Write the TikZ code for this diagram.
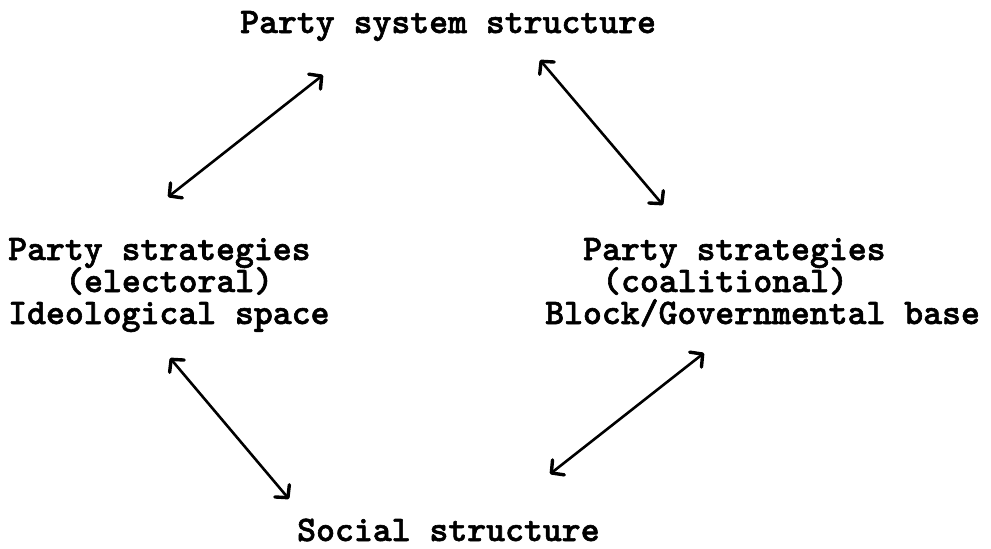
\documentclass[tikz,border=0pt]{standalone}
\usepackage{fontspec}
\setmonofont{lmmono10-regular.otf}[BoldFont=lmmonolt10-bold.otf,BoldFeatures={FakeBold=1.6}]
\usetikzlibrary{arrows.meta}
\begin{document}
\begin{tikzpicture}[x=1pt,y=-1pt,
  lbl/.style={anchor=base west,inner sep=0pt,text height=22pt,text depth=6pt,font=\ttfamily\bfseries\fontsize{36}{32}\selectfont},
  link/.style={line width=2.6pt,{Straight Barb[length=9pt,width=19pt,line width=3.4pt,round]}-{Straight Barb[length=9pt,width=19pt,line width=3.4pt,round]}}]
\useasboundingbox (0,0) rectangle (991,549);
\node[lbl] (top) at (240,33) {Party system structure};
\node[lbl] (l1) at (8,260) {Party strategies};
\node[lbl] (l2) at (65,292) {(electoral)};
\node[lbl] (l3) at (8,324) {Ideological space};
\node[lbl] (r1) at (583,260) {Party strategies};
\node[lbl] (r2) at (602,292) {(coalitional)};
\node[lbl] (r3) at (545,324) {Block/Governmental base};
\node[lbl] (bot) at (297,541) {Social structure};
\coordinate (a1s) at (168,197);
\coordinate (a1e) at (323,75);
\coordinate (a2s) at (540,60);
\coordinate (a2e) at (663,205);
\coordinate (a3s) at (170,358);
\coordinate (a3e) at (289,499);
\coordinate (a4s) at (550,474);
\coordinate (a4e) at (704,353);
\draw[link] (a1s) -- (a1e);
\draw[link] (a2s) -- (a2e);
\draw[link] (a3s) -- (a3e);
\draw[link] (a4s) -- (a4e);
\end{tikzpicture}
\end{document}
